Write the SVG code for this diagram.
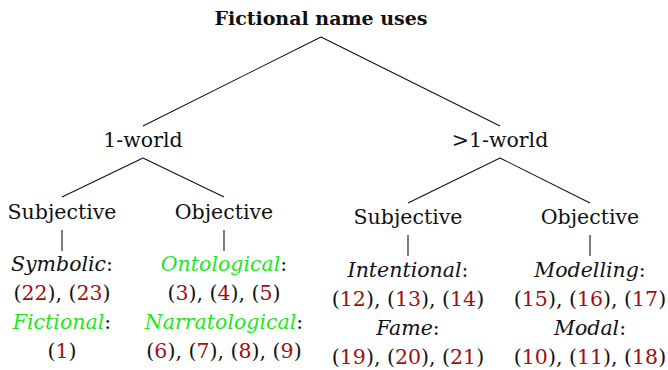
<svg xmlns="http://www.w3.org/2000/svg" width="668" height="370" viewBox="0 0 668 370">
<style>
text{font-family:"DejaVu Serif","Liberation Serif",serif;font-size:20.5px;fill:#111;text-anchor:middle}
.t{font-weight:bold;font-size:19px}
.i{font-style:italic}
.g{fill:#1ee61e}
.r{fill:#a00f0f}
.e line{stroke:#111;stroke-width:1.1}
</style>
<rect width="668" height="370" fill="#fff"/>
<g class="e" id="edges">
<line x1="321" y1="37" x2="143" y2="126"/>
<line x1="321" y1="37" x2="500" y2="126"/>
<line x1="143" y1="158" x2="62" y2="197"/>
<line x1="143" y1="158" x2="224" y2="197"/>
<line x1="500" y1="158" x2="408" y2="203"/>
<line x1="500" y1="158" x2="590" y2="203"/>
<line x1="62" y1="230" x2="62" y2="251"/>
<line x1="224" y1="230" x2="224" y2="251"/>
<line x1="408" y1="235" x2="408" y2="256"/>
<line x1="590" y1="235" x2="590" y2="256"/>
</g>
<g id="root"><text class="t" x="321" y="25">Fictional name uses</text></g>
<g id="oneworld"><text x="143" y="147">1-world</text></g>
<g id="multiworld"><text x="500" y="147">&gt;1-world</text></g>
<g id="subj1"><text x="62" y="219">Subjective</text></g>
<g id="obj1"><text x="224" y="219">Objective</text></g>
<g id="subj2"><text x="408" y="224">Subjective</text></g>
<g id="obj2"><text x="590" y="224">Objective</text></g>
<g id="leaf-subj1">
<text x="62" y="271"><tspan class="i">Symbolic</tspan>:</text>
<text x="62" y="300">(<tspan class="r">22</tspan>), (<tspan class="r">23</tspan>)</text>
<text x="62" y="329"><tspan class="i g">Fictional</tspan>:</text>
<text x="62" y="358">(<tspan class="r">1</tspan>)</text>
</g>
<g id="leaf-obj1">
<text x="224" y="271"><tspan class="i g">Ontological</tspan>:</text>
<text x="224" y="300">(<tspan class="r">3</tspan>), (<tspan class="r">4</tspan>), (<tspan class="r">5</tspan>)</text>
<text x="224" y="329"><tspan class="i g">Narratological</tspan>:</text>
<text x="224" y="358">(<tspan class="r">6</tspan>), (<tspan class="r">7</tspan>), (<tspan class="r">8</tspan>), (<tspan class="r">9</tspan>)</text>
</g>
<g id="leaf-subj2">
<text x="408" y="277"><tspan class="i">Intentional</tspan>:</text>
<text x="408" y="306">(<tspan class="r">12</tspan>), (<tspan class="r">13</tspan>), (<tspan class="r">14</tspan>)</text>
<text x="408" y="335"><tspan class="i">Fame</tspan>:</text>
<text x="408" y="364">(<tspan class="r">19</tspan>), (<tspan class="r">20</tspan>), (<tspan class="r">21</tspan>)</text>
</g>
<g id="leaf-obj2">
<text x="590" y="277"><tspan class="i">Modelling</tspan>:</text>
<text x="590" y="306">(<tspan class="r">15</tspan>), (<tspan class="r">16</tspan>), (<tspan class="r">17</tspan>)</text>
<text x="590" y="335"><tspan class="i">Modal</tspan>:</text>
<text x="590" y="364">(<tspan class="r">10</tspan>), (<tspan class="r">11</tspan>), (<tspan class="r">18</tspan>)</text>
</g>
</svg>
